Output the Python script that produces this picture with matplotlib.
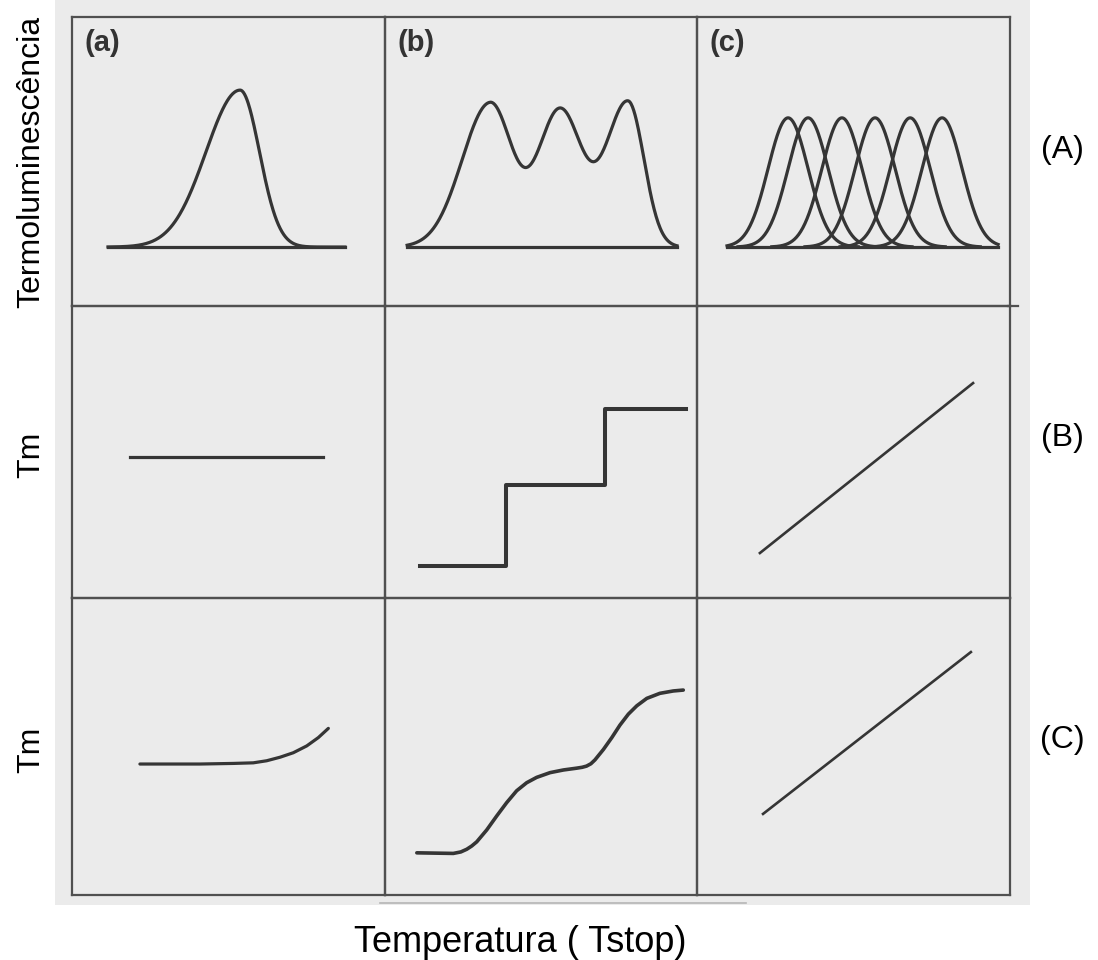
import numpy as np
import matplotlib.pyplot as plt
from matplotlib.patches import Rectangle

plt.rcParams['font.family'] = ['Liberation Sans', 'DejaVu Sans']

# each panel uses local units 0-100 (temperature on x, signal on y)
BASE = 20.4

# row A: glow curves, peaks given as (centre, height, left width, right width)
peaks_a = [(53.7, 54.3, 10.9, 6.2)]
span_a = (11.5, 87.2)
peaks_b = [(33.7, 49.8, 9.0, 7.05), (56.1, 47.4, 7.05, 7.05), (77.9, 50.2, 7.05, 5.1)]
span_b = (7.1, 93.6)
centres_c = [29.1, 35.5, 46.3, 56.9, 68.1, 78.3]
height_c = 44.7
width_c = 6.4
span_c = (9.6, 96.2)

# row B: Tm vs Tstop
flat_x = [18.5, 80.2]
flat_y = [48.3, 48.3]
step_x = [11.2, 38.8, 70.5, 96.5]
step_y = [11.0, 38.7, 64.7, 64.7]
lineB_x = [20.1, 88.2]
lineB_y = [15.4, 73.6]

# row C: Tm vs Tstop
curveCa_x = [21.7, 30.0, 40.9, 51.5, 57.9, 62.2, 66.5, 70.7, 75.0, 78.7, 81.9]
curveCa_y = [44.1, 44.1, 44.1, 44.3, 44.5, 45.2, 46.4, 47.9, 50.2, 53.0, 56.1]
curveCb_x = [10.2, 16.0, 21.9, 24.3, 26.2, 27.8, 29.4, 32.6, 35.8, 39.0, 42.2, 45.4,
             48.6, 52.9, 57.2, 61.4, 63.2, 64.6, 66.0, 67.3, 70.0, 72.7, 75.3, 78.0,
             80.7, 83.9, 88.1, 92.4, 95.6]
curveCb_y = [14.2, 14.1, 14.0, 14.5, 15.4, 16.5, 17.9, 21.9, 26.6, 31.1, 35.1, 37.8,
             39.6, 41.2, 42.1, 42.7, 43.0, 43.4, 44.2, 45.5, 49.0, 53.0, 57.2, 60.9,
             63.7, 66.2, 67.9, 68.7, 69.0]
lineC_x = [21.1, 87.5]
lineC_y = [27.3, 81.8]

col_labels = ['(a)', '(b)', '(c)']
row_labels = ['(A)', '(B)', '(C)']
y_labels = ['Termoluminescência', 'Tm', 'Tm']
x_label = 'Temperatura ( Tstop)'

W, H = 1098, 960
col_left = [72, 385, 697]
col_w = [313, 312, 313]
row_top = [17, 306, 598]
row_h = [289, 292, 297]

INK = '#353535'
LW = 2.3


def peak(x, c, a, sl, sr):
    s = np.where(x < c, sl, sr)
    return a * np.exp(-(x - c) ** 2 / (2 * s ** 2))


fig = plt.figure(figsize=(W / 100, H / 100), dpi=100)
fig.patch.set_facecolor('white')
fig.add_artist(Rectangle((55 / W, (H - 905) / H), (1030 - 55) / W, 905 / H,
                         transform=fig.transFigure, facecolor='#ebebeb',
                         edgecolor='none', zorder=0))
fig.add_artist(plt.Line2D([380 / W, 746 / W], [(H - 903) / H] * 2,
                          transform=fig.transFigure, color='#b5b5b5', lw=1.2))
# row A/B divider runs a little past the frame in the scan
fig.add_artist(plt.Line2D([1008 / W, 1018 / W], [(H - 306) / H] * 2,
                          transform=fig.transFigure, color='#505050', lw=1.6))

axes = {}
for r in range(3):
    for c in range(3):
        ax = fig.add_axes([col_left[c] / W, (H - row_top[r] - row_h[r]) / H,
                           col_w[c] / W, row_h[r] / H])
        ax.set_xlim(0, 100)
        ax.set_ylim(0, 100)
        ax.set_facecolor('none')
        ax.set_xticks([])
        ax.set_yticks([])
        for sp in ax.spines.values():
            sp.set_color('#505050')
            sp.set_linewidth(1.6)
        axes[r, c] = ax

# row A
ax = axes[0, 0]
x = np.linspace(span_a[0], span_a[1], 400)
ax.plot(span_a, [BASE, BASE], color=INK, lw=LW)
ax.plot(x, BASE + sum(peak(x, *p) for p in peaks_a), color=INK, lw=LW)

ax = axes[0, 1]
x = np.linspace(span_b[0], span_b[1], 400)
ax.plot(span_b, [BASE, BASE], color=INK, lw=LW)
ax.plot(x, BASE + sum(peak(x, *p) for p in peaks_b), color=INK, lw=LW)

ax = axes[0, 2]
ax.plot(span_c, [BASE, BASE], color=INK, lw=LW)
for cc in centres_c:
    x = np.linspace(max(cc - 3.5 * width_c, span_c[0]),
                    min(cc + 3.5 * width_c, span_c[1]), 200)
    ax.plot(x, BASE + peak(x, cc, height_c, width_c, width_c), color=INK, lw=LW)

# row B
axes[1, 0].plot(flat_x, flat_y, color=INK, lw=LW)
axes[1, 1].step(step_x, step_y, where='post', color=INK, lw=LW + 0.6)
axes[1, 2].plot(lineB_x, lineB_y, color=INK, lw=LW - 0.4)

# row C
axes[2, 0].plot(curveCa_x, curveCa_y, color=INK, lw=LW, solid_capstyle='round')
axes[2, 1].plot(curveCb_x, curveCb_y, color=INK, lw=LW + 0.3,
                solid_joinstyle='round', solid_capstyle='round')
axes[2, 2].plot(lineC_x, lineC_y, color=INK, lw=LW - 0.4)

# panel letters
for c in range(3):
    axes[0, c].text(0.04, 0.91, col_labels[c], transform=axes[0, c].transAxes,
                    fontsize=21, fontweight='bold', color='#333333',
                    ha='left', va='center')

# outer labels
label_y = [162, 455, 750]
for r in range(3):
    fig.text(31 / W, 1 - label_y[r] / H, y_labels[r], rotation=90,
             fontsize=23, ha='center', va='center', color='black')
row_lab_y = [150, 438, 740]
for r in range(3):
    fig.text(1062 / W, 1 - row_lab_y[r] / H, row_labels[r],
             fontsize=23, ha='center', va='center', color='black')
fig.text(520 / W, 1 - 942 / H, x_label, fontsize=26, ha='center', va='center',
         color='black')

fig.savefig('out.png', dpi=100)
